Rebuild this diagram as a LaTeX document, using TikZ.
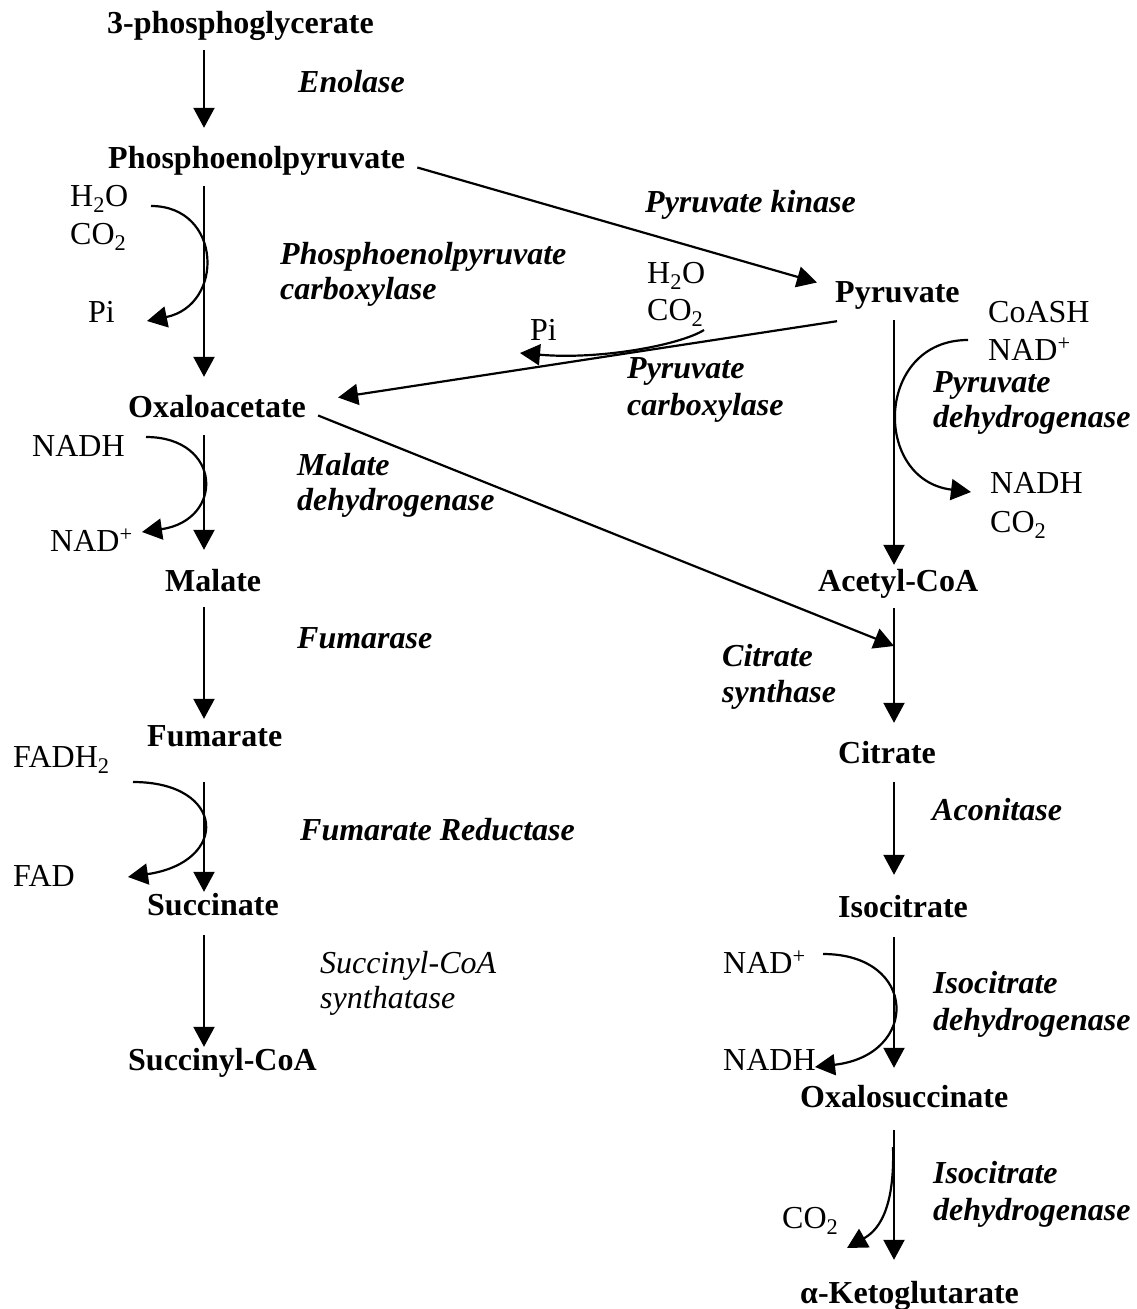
\documentclass[tikz,border=0pt]{standalone}
\usepackage{fontspec}
\setmainfont{Liberation Serif}
\usetikzlibrary{arrows.meta}
\newcommand\bigsz{\fontsize{32}{38}\selectfont}
\tikzset{
  met/.style={font=\bigsz\bfseries, inner sep=0pt, text height=22pt, text depth=7pt, anchor=base west},
  enz/.style={font=\bigsz\bfseries\itshape, inner sep=0pt, anchor=base west},
  cof/.style={font=\bigsz, inner sep=0pt, anchor=base west},
  rxn/.style={line width=2.2pt, -{Triangle[length=20pt,width=21pt]}}
}
\begin{document}
\begin{tikzpicture}[x=1pt,y=-1pt]
\useasboundingbox (0,0) rectangle (1136,1309);
\coordinate (colL) at (204,0);
\coordinate (colR) at (894,0);
% metabolites
\node[met] (pg3) at (107,33) {3-phosphoglycerate};
\node[met] (pep) at (108,168) {Phosphoenolpyruvate};
\node[met] (oxa) at (128,417) {Oxaloacetate};
\node[met] (mal) at (165,591) {Malate};
\node[met] (fum) at (147,746) {Fumarate};
\node[met] (suc) at (147,915) {Succinate};
\node[met] (sca) at (128,1070) {Succinyl-CoA};
\node[met] (pyr) at (835,302) {Pyruvate};
\node[met] (aca) at (818,591) {Acetyl-CoA};
\node[met] (cit) at (838,763) {Citrate};
\node[met] (ict) at (838,917) {Isocitrate};
\node[met] (oxs) at (800,1107) {Oxalosuccinate};
\node[met] (akg) at (800,1303) {α-Ketoglutarate};
% enzymes
\node[enz] (eno) at (298,92) {Enolase};
\node[enz] (pk) at (645,212) {Pyruvate kinase};
\node[enz] (pepcA) at (280,264) {Phosphoenolpyruvate};
\node[enz] (pepcB) at (280,299) {carboxylase};
\node[enz] (pycA) at (627,378) {Pyruvate};
\node[enz] (pycB) at (627,415) {carboxylase};
\node[enz] (pdhA) at (933,392) {Pyruvate};
\node[enz] (pdhB) at (933,427) {dehydrogenase};
\node[enz] (mdhA) at (297,475) {Malate};
\node[enz] (mdhB) at (297,510) {dehydrogenase};
\node[enz] (fuma) at (297,648) {Fumarase};
\node[enz] (csA) at (722,666) {Citrate};
\node[enz] (csB) at (722,702) {synthase};
\node[enz] (frd) at (300,840) {Fumarate Reductase};
\node[enz] (acn) at (932,820) {Aconitase};
\node[cof,font=\bigsz\itshape] (scsA) at (320,973) {Succinyl-CoA};
\node[cof,font=\bigsz\itshape] (scsB) at (320,1008) {synthatase};
\node[enz] (idhA) at (933,993) {Isocitrate};
\node[enz] (idhB) at (933,1030) {dehydrogenase};
\node[enz] (idhC) at (933,1183) {Isocitrate};
\node[enz] (idhD) at (933,1220) {dehydrogenase};
% cofactors
\node[cof] (h2oA) at (70,206) {H\textsubscript{2}O};
\node[cof] (co2A) at (70,244) {CO\textsubscript{2}};
\node[cof] (piA) at (88,322) {Pi};
\node[cof] (h2oB) at (647,283) {H\textsubscript{2}O};
\node[cof] (co2B) at (647,320) {CO\textsubscript{2}};
\node[cof] (piB) at (530,340) {Pi};
\node[cof] (coash) at (988,322) {CoASH};
\node[cof] (nadA) at (988,360) {NAD\textsuperscript{+}};
\node[cof] (nadhA) at (990,493) {NADH};
\node[cof] (co2C) at (990,532) {CO\textsubscript{2}};
\node[cof] (nadhB) at (32,456) {NADH};
\node[cof] (nadB) at (50,551) {NAD\textsuperscript{+}};
\node[cof] (fadh) at (13,767) {FADH\textsubscript{2}};
\node[cof] (fad) at (13,886) {FAD};
\node[cof] (nadC) at (723,973) {NAD\textsuperscript{+}};
\node[cof] (nadhC) at (723,1070) {NADH};
\node[cof] (co2D) at (782,1228) {CO\textsubscript{2}};
% main steps
\foreach \a/\b/\c/\s/\e in {pg3/pep/colL/10/18, pep/oxa/colL/11/18, oxa/mal/colL/11/19,
  mal/fum/colL/9/5, fum/suc/colL/29/1, suc/sca/colL/13/1, pyr/aca/colR/11/4,
  aca/cit/colR/10/18, cit/ict/colR/12/20, ict/oxs/colR/13/17, oxs/akg/colR/16/21}
  \draw[rxn, shorten <=\s pt, shorten >=\e pt] (\a.south -| \c) -- (\b.north -| \c);
% branches
\draw[rxn] ([xshift=12pt,yshift=-7pt]pep.east) -- ([xshift=-18pt,yshift=12pt]pyr.west);
\draw[rxn] ([xshift=2pt,yshift=-12pt]pyr.south west) -- ([xshift=32pt,yshift=12pt]oxa.east);
\coordinate (csIn) at (894,646);
\draw[rxn] ([xshift=12pt,yshift=-6pt]oxa.east) -- (csIn);
% side reactions
\coordinate (pcIn) at (151,206);
\coordinate (pcOut) at (147,321);
\draw[rxn] (pcIn) .. controls (222,206) and (225,305) .. (pcOut);
\coordinate (mdIn) at (146,437);
\coordinate (mdOut) at (142,532);
\draw[rxn] (mdIn) .. controls (222,437) and (225,520) .. (mdOut);
\coordinate (frIn) at (133,782);
\coordinate (frOut) at (128,877);
\draw[rxn] (frIn) .. controls (226,782) and (230,862) .. (frOut);
\coordinate (pdIn) at (968,340);
\coordinate (pdOut) at (971,492);
\draw[rxn] (pdIn) .. controls (875,340) and (872,480) .. (pdOut);
\coordinate (idIn) at (823,954);
\coordinate (idOut) at (815,1067);
\draw[rxn] (idIn) .. controls (918,954) and (920,1055) .. (idOut);
\coordinate (ogIn) at (893,1147);
\coordinate (ogOut) at (847,1248);
\draw[rxn] (ogIn) .. controls (895,1215) and (875,1232) .. (ogOut);
\coordinate (pycIn) at (704,330);
\coordinate (pycOut) at (520,353);
\draw[rxn] (pycIn) .. controls (680,345) and (600,360) .. (pycOut);
\end{tikzpicture}
\end{document}
